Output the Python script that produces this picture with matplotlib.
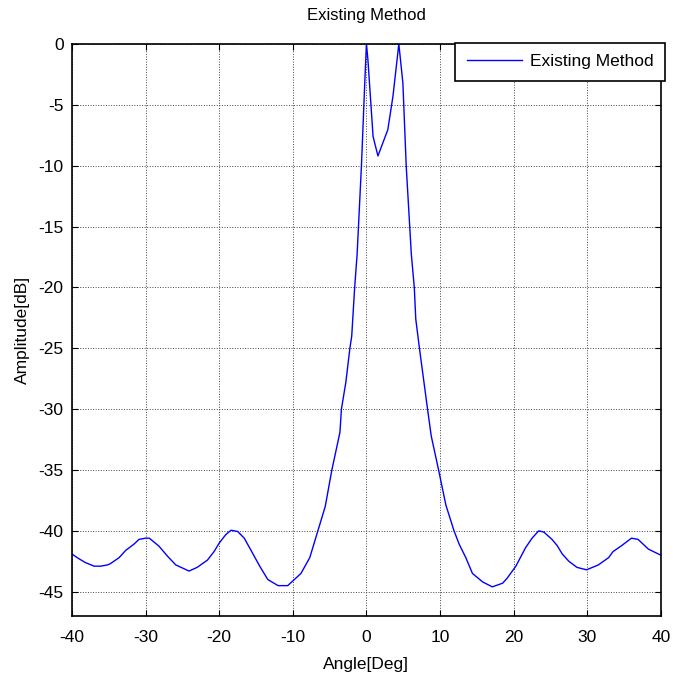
import numpy as np
import matplotlib
matplotlib.use("Agg")
import matplotlib.pyplot as plt

plt.rcParams['font.family'] = ['Liberation Sans', 'DejaVu Sans']
plt.rcParams['axes.unicode_minus'] = False

# angle [deg] and amplitude [dB]
angle = [-40.0, -39.3, -38.2, -37.0, -36.1, -35.2, -34.8, -33.6, -32.7, -31.6,
         -30.9, -30.0, -29.5, -28.2, -27.0, -25.9, -24.1, -23.0, -21.6, -20.7,
         -20.0, -19.1, -18.4, -17.5, -16.6, -15.5, -14.5, -13.4, -12.0, -10.7,
         -9.8, -8.9, -7.7, -6.6, -5.6, -4.7, -3.6, -3.4, -2.8, -2.25,
         -2.0, -1.6, -1.27, -0.68, -0.23, 0.0, 0.2, 0.9, 1.56, 2.9,
         3.6, 4.4, 4.95, 5.4, 6.1, 6.5, 6.7, 7.2, 8.3, 8.8,
         9.8, 10.8, 11.9, 12.6, 13.5, 14.4, 15.8, 17.1, 18.5, 19.1,
         20.3, 21.6, 22.5, 23.4, 24.1, 25.2, 25.9, 26.6, 27.5, 28.6,
         29.9, 31.5, 32.9, 33.5, 34.7, 36.0, 36.9, 38.3, 40.0]
amp = [-41.9, -42.2, -42.6, -42.9, -42.9, -42.8, -42.7, -42.2, -41.6, -41.1,
       -40.7, -40.6, -40.6, -41.25, -42.1, -42.8, -43.3, -43.0, -42.4, -41.7,
       -41.0, -40.3, -39.95, -40.05, -40.6, -41.8, -42.9, -44.0, -44.5, -44.5,
       -44.0, -43.5, -42.2, -40.0, -38.0, -35.0, -31.9, -30.0, -27.8, -25.0,
       -24.0, -20.0, -17.3, -10.0, -3.2, 0.0, -1.3, -7.6, -9.2, -7.05,
       -4.3, 0.0, -3.2, -10.0, -17.3, -20.0, -22.6, -25.0, -30.0, -32.2,
       -35.0, -37.9, -40.0, -41.1, -42.2, -43.5, -44.2, -44.6, -44.3, -43.9,
       -42.9, -41.4, -40.6, -40.0, -40.1, -40.7, -41.2, -41.9, -42.5, -43.0,
       -43.2, -42.8, -42.2, -41.7, -41.2, -40.6, -40.7, -41.5, -42.0]

xticks = np.arange(-40, 41, 10)
yticks = np.arange(-45, 1, 5)

fig = plt.figure(figsize=(6.73, 6.83), dpi=100)
ax = fig.add_axes([0.107, 0.098, 0.875, 0.8376])

ax.plot(angle, amp, color='blue', linewidth=1.0, label='Existing Method')

ax.set_xlim(-40, 40)
ax.set_ylim(-47, 0)
ax.set_xticks(xticks)
ax.set_yticks(yticks)
ax.grid(True, linestyle=':', color='#444444', linewidth=0.7)
ax.tick_params(direction='in', top=True, right=True, labelsize=12.5,
               length=4, width=0.8)
ax.tick_params(axis='x', pad=10)
ax.tick_params(axis='y', pad=6)
for s in ax.spines.values():
    s.set_linewidth(1.2)

ax.set_title('Existing Method', fontsize=12, pad=17)
ax.set_xlabel('Angle[Deg]', fontsize=12.5, labelpad=9)
ax.set_ylabel('Amplitude[dB]', fontsize=12.5, labelpad=6)

leg = ax.legend(loc='upper right', bbox_to_anchor=(1.007, 1.002), fontsize=12.5,
                fancybox=False, framealpha=1, edgecolor='black',
                handlelength=3.2, handletextpad=0.45, borderpad=0.65,
                borderaxespad=0)
leg.get_frame().set_linewidth(1.2)

fig.savefig('out.png', dpi=100)
